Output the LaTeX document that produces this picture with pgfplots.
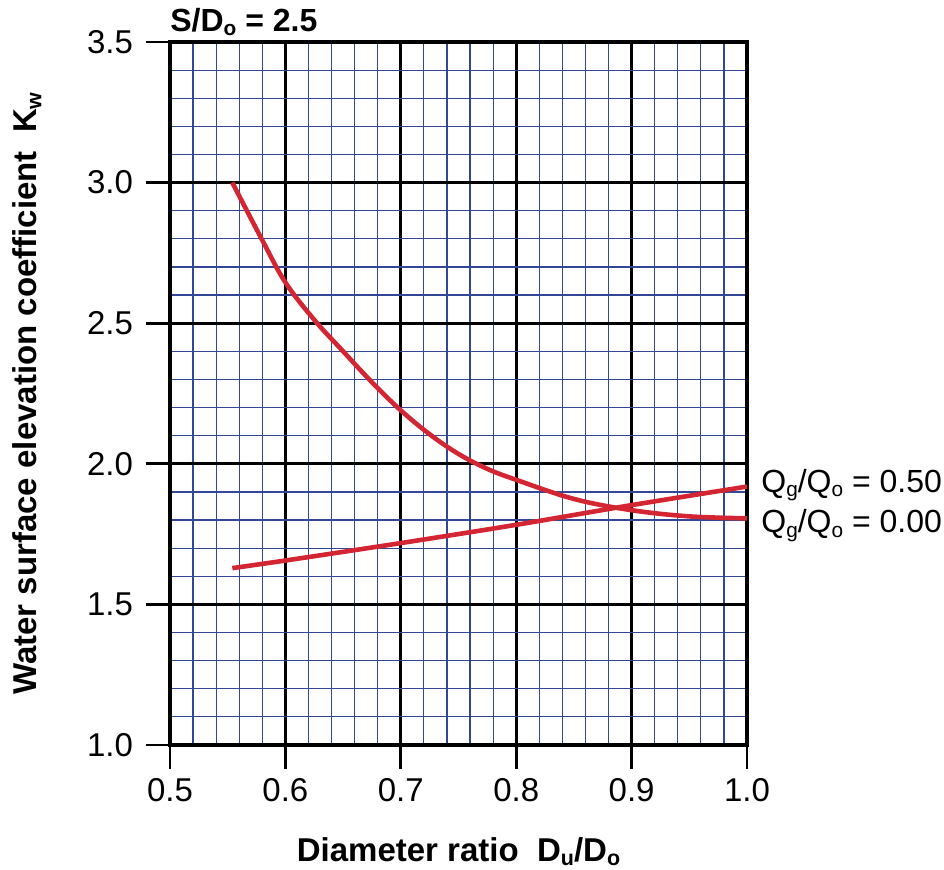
\documentclass[border=0pt]{standalone}
\usepackage{graphicx}
\usepackage{pgfplots}
\pgfplotsset{compat=1.18}
\usepackage{fontspec}
\setmainfont{Liberation Sans}
\definecolor{curvered}{RGB}{212,38,50}
\definecolor{gridblue}{RGB}{50,72,150}
\newcommand{\sbs}[1]{\raisebox{-0.25ex}{\scalebox{0.65}{#1}}}
\begin{document}
\begin{tikzpicture}
\begin{axis}[
  scale only axis,
  width=288.5pt, height=351.5pt,
  xmin=0.5, xmax=1.0, ymin=1.0, ymax=3.5,
  xtick={0.5,0.6,...,1.0}, ytick={1.0,1.5,...,3.5},
  minor x tick num=4, minor y tick num=4,
  grid=both,
  major grid style={black, line width=1.4pt},
  minor grid style={gridblue, line width=0.6pt},
  axis line style={black, line width=1.6pt},
  tick align=outside,
  xtick pos=bottom, ytick pos=left,
  major tick length=12pt, minor tick length=0pt,
  tick style={black, line width=1.4pt},
  /pgf/number format/assume math mode=true,
  /pgf/number format/fixed, /pgf/number format/fixed zerofill,
  /pgf/number format/precision=1,
  ticklabel style={font=\fontsize{16.5}{16.5}\selectfont},
  xticklabel style={yshift=-1pt},
  yticklabel style={xshift=-3pt},
  xlabel={\textbf{Diameter ratio\ \ D\sbs{u}/D\sbs{o}}},
  ylabel={\textbf{Water surface elevation coefficient\ \ K\sbs{w}}},
  label style={font=\fontsize{16.5}{16.5}\selectfont},
  xlabel style={yshift=-11pt},
  ylabel style={yshift=16pt},
  clip=false,
]
\addplot[curvered, line width=2.3pt, smooth, tension=0.6] coordinates {
  (0.554,3.00) (0.58,2.795) (0.60,2.645) (0.625,2.512) (0.65,2.40)
  (0.675,2.29) (0.70,2.19) (0.725,2.105) (0.75,2.035) (0.775,1.982)
  (0.80,1.943) (0.85,1.875) (0.90,1.835) (0.95,1.813) (1.00,1.806)
};
\addplot[curvered, line width=2.3pt, smooth] coordinates {
  (0.554,1.629) (0.60,1.656) (0.70,1.718) (0.80,1.783) (0.90,1.853) (1.00,1.919)
};
\node[anchor=west, font=\fontsize{16}{16}\selectfont, inner sep=0pt] at (axis cs:1.0,1.925) [xshift=7pt] {Q\sbs{g}/Q\sbs{o} = 0.50};
\node[anchor=west, font=\fontsize{16}{16}\selectfont, inner sep=0pt] at (axis cs:1.0,1.78) [xshift=7pt] {Q\sbs{g}/Q\sbs{o} = 0.00};
\node[anchor=south west, font=\bfseries\fontsize{16}{16}\selectfont, inner sep=0pt] at (rel axis cs:0,1) [yshift=3pt] {S/D\sbs{o} = 2.5};
\end{axis}
\pgfresetboundingbox
\useasboundingbox (-85pt,-62.5pt) rectangle (387pt,372.5pt);
\end{tikzpicture}
\end{document}
